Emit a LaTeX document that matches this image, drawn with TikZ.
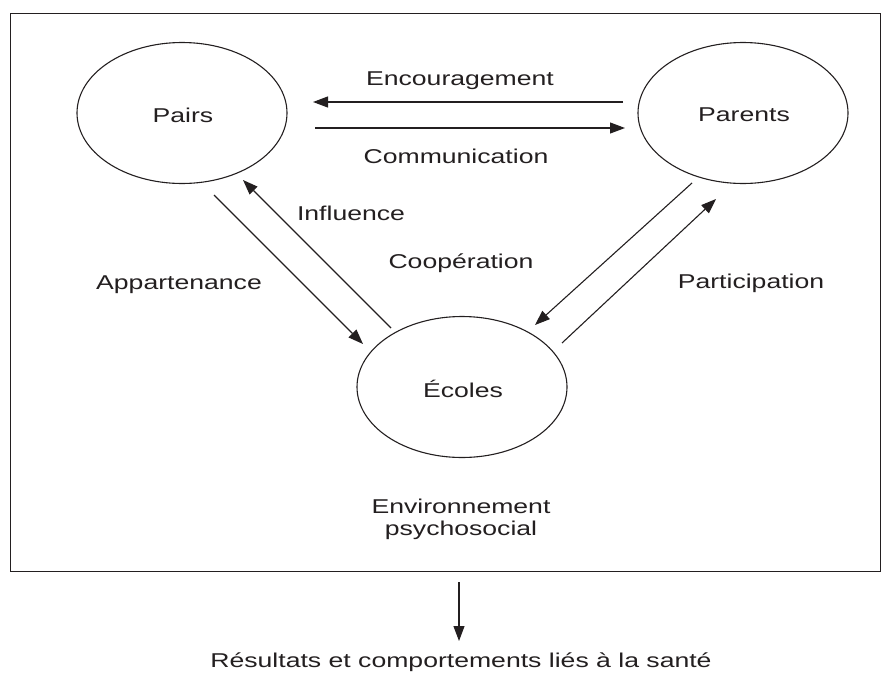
\documentclass[tikz,border=0pt]{standalone}
\usepackage{fontspec}
\setmainfont{Liberation Sans}[FakeStretch=1.33]
\usetikzlibrary{arrows.meta,shapes.geometric}
\definecolor{ink}{HTML}{231F20}
\begin{document}
\begin{tikzpicture}[x=1pt,y=-1pt,
  every node/.style={text=ink},
  lbl/.style={font=\fontsize{20}{22}\selectfont, inner sep=0pt, anchor=base},
  oval/.style={ellipse, draw=ink, line width=1.1pt, minimum width=210pt, minimum height=141pt, inner sep=0pt, font=\fontsize{20}{22}\selectfont},
  arr/.style={draw=ink, line width=1.1pt, -{Triangle[length=15pt,width=11pt]}},
  frame/.style={draw=ink, line width=1.4pt}
]
\useasboundingbox (0,0) rectangle (891,672);
\node[frame, minimum width=870pt, minimum height=558pt, inner sep=0pt, anchor=north west] (box) at (10,13) {};

\node[oval] (pairs) at (182,113) {};
\node[oval] (parents) at (743,113) {};
\node[oval] (ecoles) at (462,387) {};

\node[lbl] (tpairs) at (183,122) {Pairs};
\node[lbl] (tparents) at (744,121) {Parents};
\node[lbl] (tecoles) at (463,397) {Écoles};

\node[lbl] (enc) at (460,85) {Encouragement};
\node[lbl] (com) at (456,163) {Communication};
\node[lbl] (inf) at (351,220) {Influence};
\node[lbl] (coop) at (461,268) {Coopération};
\node[lbl] (app) at (179,289) {Appartenance};
\node[lbl] (part) at (751,288) {Participation};
\node[font=\fontsize{20}{22}\selectfont, align=center, inner sep=0pt, anchor=north] (env) at (461,499) {Environnement\\psychosocial};
\node[lbl] (res) at (461,667) {Résultats et comportements liés à la santé};

% connector end points
\coordinate (encA) at (623,102);
\coordinate (encB) at (313,102);
\coordinate (comA) at (315,128);
\coordinate (comB) at (625,128);
\coordinate (appA) at (214,195);
\coordinate (appB) at (363,344);
\coordinate (infA) at (391,328);
\coordinate (infB) at (243,180);
\coordinate (coopA) at (692,183);
\coordinate (coopB) at (535,325);
\coordinate (partA) at (562,343);
\coordinate (partB) at (716,199);
\coordinate (outA) at (459,582);
\coordinate (outB) at (459,641);

\draw[arr] (encA) -- (encB);
\draw[arr] (comA) -- (comB);
\draw[arr] (appA) -- (appB);
\draw[arr] (infA) -- (infB);
\draw[arr] (coopA) -- (coopB);
\draw[arr] (partA) -- (partB);
\draw[arr] (outA) -- (outB);
\end{tikzpicture}
\end{document}
